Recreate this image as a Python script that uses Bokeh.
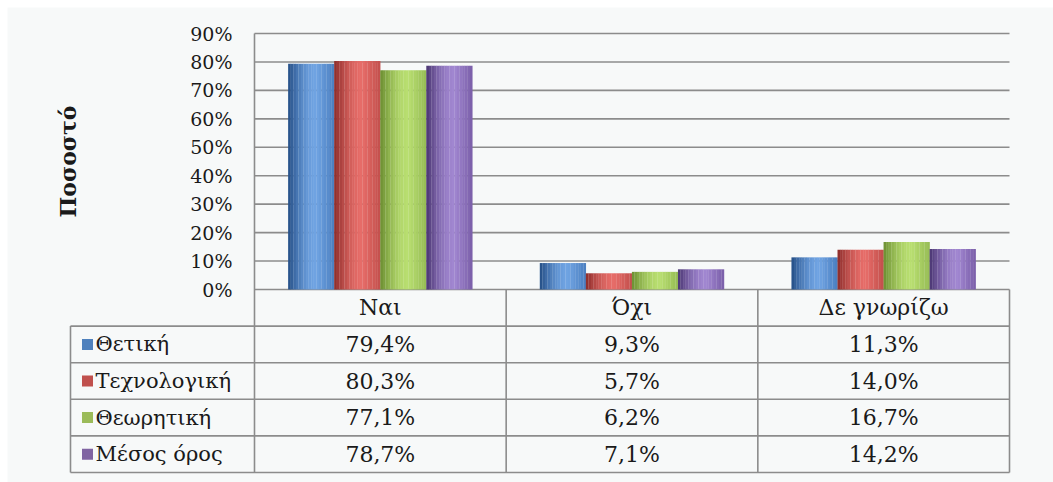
import math
from bokeh.plotting import figure
from bokeh.models import Range1d, ColumnDataSource
from bokeh.core.properties import value
from bokeh.embed import file_html
from bokeh.resources import INLINE

# ---- data ----
categories = ["Ναι", "Όχι", "Δε γνωρίζω"]
series_names = ["Θετική", "Τεχνολογική", "Θεωρητική", "Μέσος όρος"]
thetiki = [79.4, 9.3, 11.3]
texnologiki = [80.3, 5.7, 14.0]
theoritiki = [77.1, 6.2, 16.7]
mesos_oros = [78.7, 7.1, 14.2]
series_values = [thetiki, texnologiki, theoritiki, mesos_oros]
y_ticks = [0, 10, 20, 30, 40, 50, 60, 70, 80, 90]
y_tick_labels = ["0%", "10%", "20%", "30%", "40%", "50%", "60%", "70%", "80%", "90%"]
y_label = "Ποσοστό"

# ---- styles ----
BG = "#f7f9f9"
GRID = "#8c8c8c"
TXT = "#1a1a1a"
FONT = "DejaVu Serif"
legend_colors = ["#4f81bd", "#c0504d", "#9bbb59", "#8064a2"]
# cylinder shading: (left edge, highlight, right edge)
shades = [
    ((0x24, 0x4e, 0x86), (0x6f, 0xa3, 0xe2), (0x4a, 0x7e, 0xc0)),
    ((0x8c, 0x2c, 0x2a), (0xe6, 0x6c, 0x68), (0xc2, 0x4f, 0x4c)),
    ((0x6c, 0x8e, 0x32), (0xb8, 0xde, 0x70), (0x96, 0xbc, 0x54)),
    ((0x4a, 0x35, 0x72), (0xa0, 0x86, 0xd0), (0x7a, 0x5e, 0xa8)),
]
HL_POS = 0.62
N_SLICES = 18

def shade_at(s, t):
    a, b, c = shades[s]
    if t <= HL_POS:
        u = t / HL_POS
        u = math.sin(u * math.pi / 2)
        lo, hi = a, b
    else:
        u = (t - HL_POS) / (1 - HL_POS)
        lo, hi = b, c
    rgb = [round(lo[k] + (hi[k] - lo[k]) * u) for k in range(3)]
    return "#%02x%02x%02x" % tuple(rgb)

n_cat = len(categories)
n_ser = len(series_names)
y_max = y_ticks[-1]
bar_w = 0.183
px_per_cat = 251.67           # frame pixels per category
px_per_unit = 256 / y_max     # frame pixels per percent
row_h = 36.6 / px_per_unit    # table row height in data units
table_bottom = -row_h * (n_ser + 1)
left = -184 / px_per_cat      # left edge of the table's label column

W, H = 1053, 482
M = 7                         # white strip at top/left
x0_px, x_end_px = 254, 1009   # category axis extent in page pixels
y_top_px, y0_px, tb_px = 33, 289, 472
frame_left = -(x0_px - M) / px_per_cat
frame_right = n_cat + (W - x_end_px) / px_per_cat
frame_top = y_max + (y_top_px - M) / px_per_unit
frame_bottom = table_bottom - (H - tb_px) / px_per_unit

p = figure(width=W, height=H, output_backend="svg", toolbar_location=None,
           x_range=Range1d(frame_left, frame_right),
           y_range=Range1d(frame_bottom, frame_top),
           x_axis_location=None, y_axis_location=None,
           min_border_top=M, min_border_bottom=0,
           min_border_left=M, min_border_right=0)
p.background_fill_color = BG
p.border_fill_color = "white"
p.outline_line_color = None
p.grid.visible = False

# ---- gridlines + value axis ----
p.segment(x0=[0] * len(y_ticks), x1=[n_cat] * len(y_ticks), y0=y_ticks, y1=y_ticks,
          line_color=GRID, line_width=1.6)
p.text(x=[0] * len(y_ticks), y=y_ticks, text=y_tick_labels, x_offset=-22,
       text_align="right", text_baseline="middle", text_font=value(FONT),
       text_font_size="19px", text_color=TXT)
p.text(x=[frame_left], y=[y_max / 2], text=[y_label], x_offset=60,
       angle=math.pi / 2, text_align="center", text_baseline="middle",
       text_font=value(FONT), text_font_style="bold", text_font_size="22px",
       text_color=TXT)

# ---- bars (shaded as cylinders by thin vertical slices) ----
cat_x = [i + 0.5 for i in range(n_cat)]
slice_w = bar_w / N_SLICES
for s in range(n_ser):
    centers = [c + (s - (n_ser - 1) / 2) * bar_w for c in cat_x]
    for k in range(N_SLICES):
        t = (k + 0.5) / N_SLICES
        xs = [cx - bar_w / 2 + (k + 0.5) * slice_w for cx in centers]
        src = ColumnDataSource(dict(x=xs, top=series_values[s]))
        p.vbar(x="x", top="top", width=slice_w * 1.08, bottom=0, source=src,
               fill_color=shade_at(s, t), line_color=None)

# ---- data table ----
row_lines = [-row_h * (r + 1) for r in range(n_ser + 1)]
p.segment(x0=[left] * len(row_lines), x1=[n_cat] * len(row_lines),
          y0=row_lines, y1=row_lines, line_color=GRID, line_width=1.6)
p.segment(x0=[left], x1=[left], y0=[row_lines[0]], y1=[table_bottom],
          line_color=GRID, line_width=1.6)
vx = list(range(n_cat + 1))
p.segment(x0=vx, x1=vx, y0=[table_bottom] * len(vx), y1=[y_max] + [0] * n_cat,
          line_color=GRID, line_width=1.6)

def row_mid(r):
    return -row_h * (r + 0.5)

p.text(x=cat_x, y=[row_mid(0)] * n_cat, text=categories, text_align="center",
       text_baseline="middle", text_font=value(FONT), text_font_size="22px",
       text_color=TXT)

tx, ty, tt = [], [], []
for s in range(n_ser):
    for c in range(n_cat):
        tx.append(cat_x[c])
        ty.append(row_mid(s + 1))
        tt.append(f"{series_values[s][c]:.1f}%".replace(".", ","))
p.text(x=tx, y=ty, text=tt, text_align="center", text_baseline="middle",
       text_font=value(FONT), text_font_size="22px", text_color=TXT)

row_y = [row_mid(s + 1) for s in range(n_ser)]
p.rect(x=[left + 17 / px_per_cat] * n_ser, y=row_y, width=11, height=11,
       width_units="screen", height_units="screen",
       fill_color=legend_colors, line_color=None)
p.text(x=[left] * n_ser, y=row_y, text=series_names, x_offset=25,
       text_align="left", text_baseline="middle", text_font=value(FONT),
       text_font_size="21px", text_color=TXT)

open("out.html", "w").write(file_html(p, INLINE))
